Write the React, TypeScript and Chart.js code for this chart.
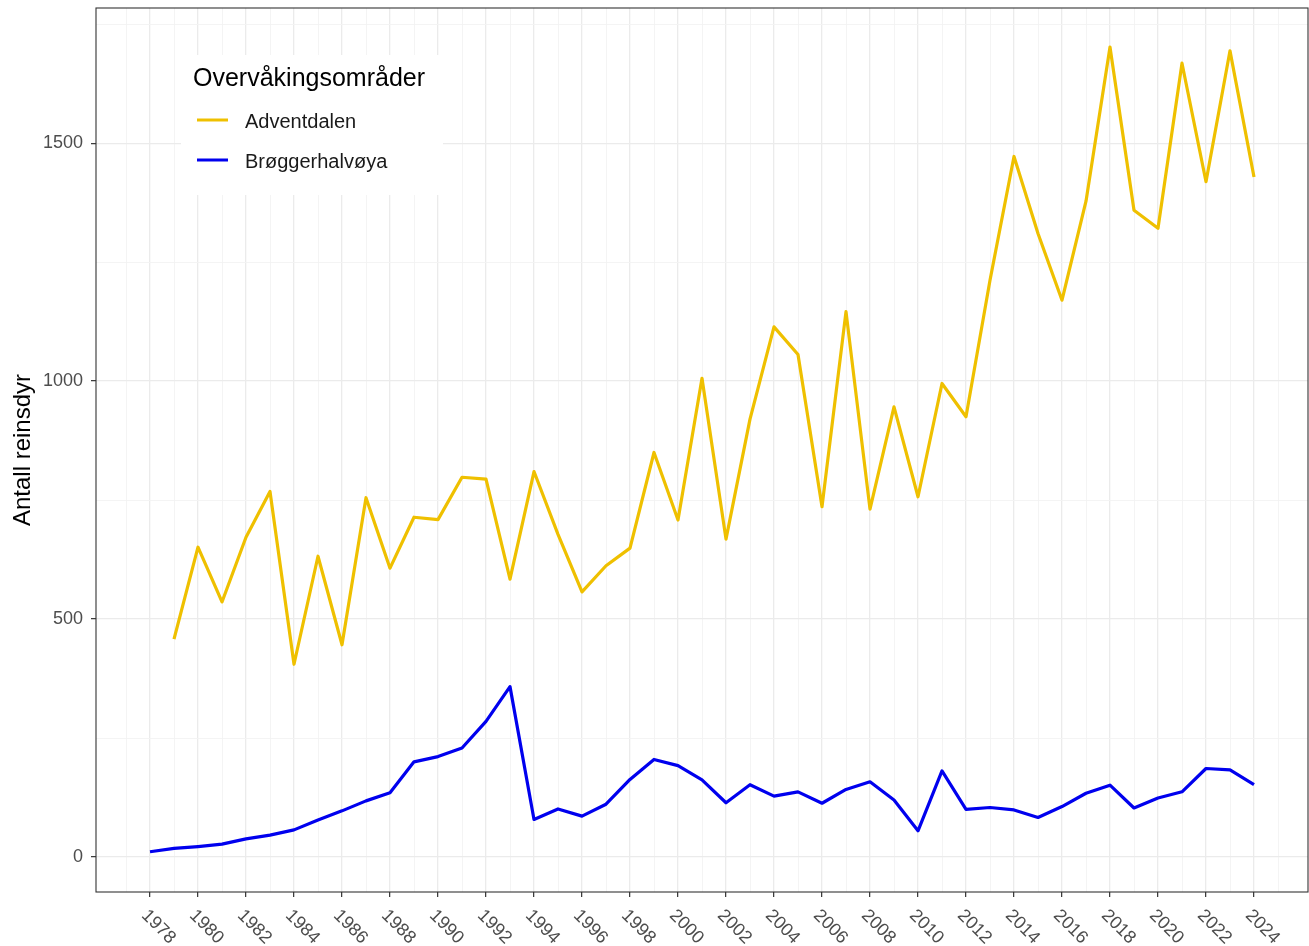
import React, { useEffect, useRef } from 'react';
import { Chart, registerables } from 'chart.js';

Chart.register(...registerables);

const years = [
  1978, 1979, 1980, 1981, 1982, 1983, 1984, 1985, 1986, 1987, 1988, 1989,
  1990, 1991, 1992, 1993, 1994, 1995, 1996, 1997, 1998, 1999, 2000, 2001,
  2002, 2003, 2004, 2005, 2006, 2007, 2008, 2009, 2010, 2011, 2012, 2013,
  2014, 2015, 2016, 2017, 2018, 2019, 2020, 2021, 2022, 2023, 2024,
];

const adventdalen: (number | null)[] = [
  null, 458, 651, 536, 672, 768, 405, 632, 446, 755, 607, 714,
  709, 798, 794, 584, 810, 678, 557, 612, 649, 850, 708, 1006,
  668, 920, 1114, 1056, 736, 1146, 731, 946, 757, 995, 925, 1212,
  1472, 1310, 1170, 1378, 1702, 1359, 1321, 1668, 1419, 1694, 1429,
];

const broggerhalvoya: (number | null)[] = [
  11, 18, 22, 27, 38, 46, 57, 78, 97, 118, 135, 200,
  211, 229, 285, 358, 79, 101, 86, 111, 163, 205, 192, 162,
  114, 152, 128, 137, 113, 142, 158, 120, 55, 181, 100, 104,
  99, 83, 106, 134, 151, 103, 124, 137, 186, 183, 152,
];

const seriesNames = ['Adventdalen', 'Brøggerhalvøya'];
const seriesColors = ['#EFC000', '#0000EE'];
const legendTitle = 'Overvåkingsområder';
const yAxisTitle = 'Antall reinsdyr';

const xLabelledYears = [
  1978, 1980, 1982, 1984, 1986, 1988, 1990, 1992, 1994, 1996, 1998, 2000,
  2002, 2004, 2006, 2008, 2010, 2012, 2014, 2016, 2018, 2020, 2022, 2024,
];
const xGridYears = [1977, ...years, 2025];
const yGridValues = [0, 250, 500, 750, 1000, 1250, 1500, 1750];
const yLabelledTicks = [0, 500, 1000, 1500];

const FONT = '"Liberation Sans", Arial, Helvetica, sans-serif';

const overlayPlugin = {
  id: 'ggOverlay',
  afterDraw(chart: any) {
    const ctx = chart.ctx as CanvasRenderingContext2D;
    const area = chart.chartArea;
    const xs = chart.scales.x;

    // panel border
    ctx.save();
    ctx.strokeStyle = '#333333';
    ctx.lineWidth = 1.1;
    ctx.strokeRect(area.left, area.top, area.right - area.left, area.bottom - area.top);
    ctx.restore();

    // rotated x labels
    ctx.save();
    ctx.font = `18px ${FONT}`;
    ctx.fillStyle = '#4D4D4D';
    ctx.textAlign = 'left';
    ctx.textBaseline = 'alphabetic';
    for (const yr of xLabelledYears) {
      const px = xs.getPixelForValue(yr);
      ctx.save();
      ctx.translate(px, area.bottom + 15);
      ctx.rotate(Math.PI / 4);
      ctx.fillText(String(yr), 0, 13);
      ctx.restore();
    }
    ctx.restore();

    // legend
    const lx = area.left + 85;
    const ly = area.top + 47;
    ctx.save();
    ctx.fillStyle = '#FFFFFF';
    ctx.fillRect(lx, ly, 262, 140);
    ctx.fillStyle = '#000000';
    ctx.font = `25px ${FONT}`;
    ctx.textAlign = 'left';
    ctx.textBaseline = 'alphabetic';
    ctx.fillText(legendTitle, lx + 12, ly + 31);
    ctx.font = `20px ${FONT}`;
    seriesNames.forEach((name, i) => {
      const cy = ly + 65 + i * 40;
      ctx.strokeStyle = seriesColors[i];
      ctx.lineWidth = 3;
      ctx.beginPath();
      ctx.moveTo(lx + 16, cy);
      ctx.lineTo(lx + 47, cy);
      ctx.stroke();
      ctx.fillStyle = '#1A1A1A';
      ctx.fillText(name, lx + 64, cy + 7.5);
    });
    ctx.restore();
  },
};

export default function App() {
  const canvasRef = useRef<HTMLCanvasElement | null>(null);

  useEffect(() => {
    if (!canvasRef.current) return;
    const makePoints = (vals: (number | null)[]) =>
      years.map((yr, i) => ({ x: yr, y: vals[i] }));

    const chart = new Chart(canvasRef.current, {
      type: 'line',
      data: {
        datasets: [
          {
            label: seriesNames[0],
            data: makePoints(adventdalen) as any,
            borderColor: seriesColors[0],
            backgroundColor: seriesColors[0],
            borderWidth: 3.2,
            pointRadius: 0,
            tension: 0,
            spanGaps: false,
            borderJoinStyle: 'round',
          },
          {
            label: seriesNames[1],
            data: makePoints(broggerhalvoya) as any,
            borderColor: seriesColors[1],
            backgroundColor: seriesColors[1],
            borderWidth: 3.2,
            pointRadius: 0,
            tension: 0,
            borderJoinStyle: 'round',
          },
        ],
      },
      options: {
        animation: false,
        responsive: true,
        maintainAspectRatio: false,
        layout: { padding: { top: 8, right: 1, left: 0, bottom: 0 } },
        plugins: {
          legend: { display: false },
          tooltip: { enabled: false },
        },
        scales: {
          x: {
            type: 'linear',
            min: 1975.75,
            max: 2026.25,
            afterBuildTicks: (scale: any) => {
              scale.ticks = xGridYears.map((v) => ({ value: v }));
            },
            afterFit: (scale: any) => {
              scale.height = 54;
              scale.paddingLeft = 0;
              scale.paddingRight = 0;
            },
            border: { display: false },
            grid: {
              color: (c: any) => (c.tick && c.tick.value % 2 === 0 ? '#EBEBEB' : '#F3F3F3'),
              lineWidth: (c: any) => (c.tick && c.tick.value % 2 === 0 ? 1.3 : 0.9),
              drawTicks: true,
              tickLength: 5,
              tickColor: (c: any) => (c.tick && c.tick.value % 2 === 0 ? '#333333' : 'rgba(0,0,0,0)'),
              tickWidth: 1.2,
            },
            ticks: { display: false },
          },
          y: {
            type: 'linear',
            min: -73.5,
            max: 1784,
            afterBuildTicks: (scale: any) => {
              scale.ticks = yGridValues.map((v) => ({ value: v }));
            },
            afterFit: (scale: any) => {
              scale.width = 96;
              scale.paddingTop = 0;
              scale.paddingBottom = 0;
            },
            border: { display: false },
            grid: {
              color: (c: any) => (c.tick && yLabelledTicks.includes(c.tick.value) ? '#EBEBEB' : '#F3F3F3'),
              lineWidth: (c: any) => (c.tick && yLabelledTicks.includes(c.tick.value) ? 1.3 : 0.9),
              drawTicks: true,
              tickLength: 5,
              tickColor: (c: any) => (c.tick && yLabelledTicks.includes(c.tick.value) ? '#333333' : 'rgba(0,0,0,0)'),
              tickWidth: 1.2,
            },
            ticks: {
              autoSkip: false,
              padding: 8,
              color: '#4D4D4D',
              font: { family: FONT, size: 18 },
              callback: (v: any) => (yLabelledTicks.includes(Number(v)) ? String(v) : ''),
            },
            title: {
              display: true,
              text: yAxisTitle,
              color: '#000000',
              font: { family: FONT, size: 24 },
              padding: { top: 9, bottom: 0 },
            },
          },
        },
      },
      plugins: [overlayPlugin],
    });

    return () => chart.destroy();
  }, []);

  return (
    <div style={{ position: 'fixed', left: 0, top: 0, width: 1309, height: 946, background: '#fff' }}>
      <canvas ref={canvasRef} />
    </div>
  );
}
